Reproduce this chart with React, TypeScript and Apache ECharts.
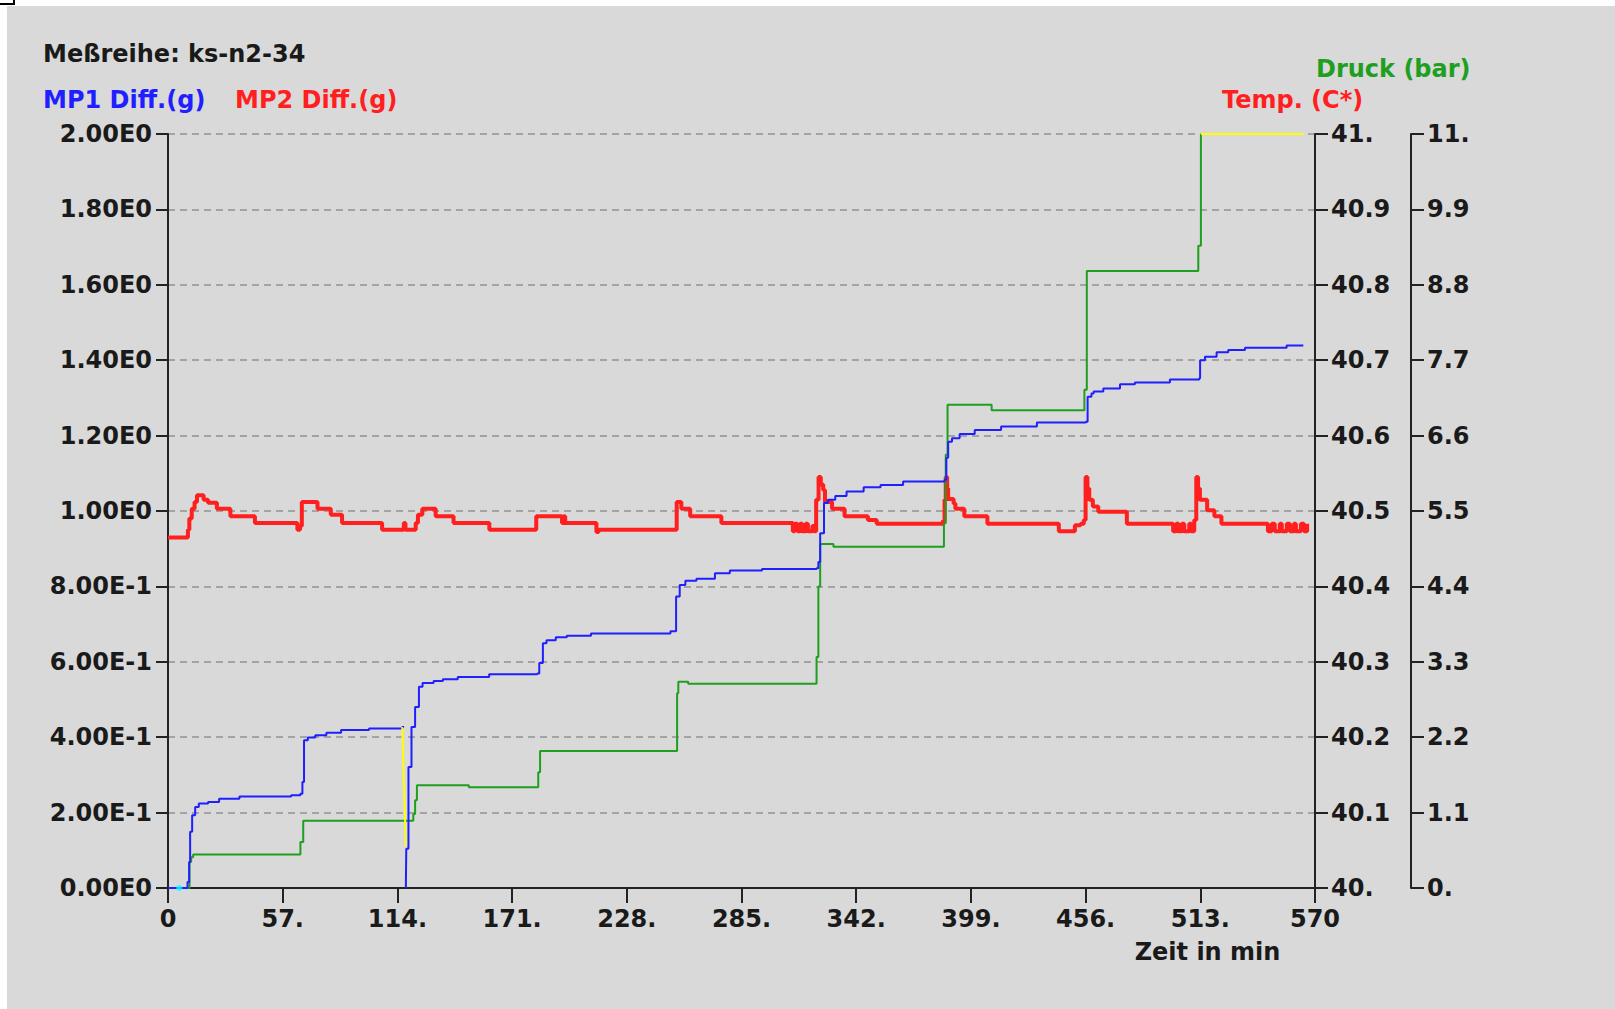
import React, { useEffect, useRef } from "react";
import * as echarts from "echarts";

// Tick labels as printed by the measuring software
const timeLabels = ["0", "57.", "114.", "171.", "228.", "285.", "342.", "399.", "456.", "513.", "570"];
const massLabels = ["0.00E0", "2.00E-1", "4.00E-1", "6.00E-1", "8.00E-1", "1.00E0", "1.20E0", "1.40E0", "1.60E0", "1.80E0", "2.00E0"];
const tempLabels = ["40.", "40.1", "40.2", "40.3", "40.4", "40.5", "40.6", "40.7", "40.8", "40.9", "41."];
const druckLabels = ["0.", "1.1", "2.2", "3.3", "4.4", "5.5", "6.6", "7.7", "8.8", "9.9", "11."];

// MP1 Diff. (g) — [time in min, grams]; each point starts a new level
const mp1Diff: [number, number | null][] = [
  [0, 0], [9.7, 0.016], [10.5, 0.069], [11.0, 0.149], [12.0, 0.193], [13.5, 0.215],
  [15.3, 0.224], [19.9, 0.228], [25.4, 0.237], [35.5, 0.243], [61.2, 0.246], [65.8, 0.25],
  [66.8, 0.281], [67.6, 0.392], [69.5, 0.399], [73.2, 0.405], [78.7, 0.412], [86.0, 0.419],
  [99.9, 0.423], [116.4, 0.427], [117.3, null],
  [118.2, 0], [118.4, 0.104], [119.5, 0.321], [121.0, 0.427], [122.8, 0.48], [124.7, 0.534],
  [126.5, 0.544], [132.0, 0.549], [136.6, 0.554], [144.0, 0.56], [159.6, 0.567], [183.5, 0.569],
  [184.5, 0.597], [186.3, 0.649], [188.1, 0.657], [192.7, 0.665], [198.2, 0.669], [210.2, 0.675],
  [249.7, 0.681], [252.5, 0.773], [254.3, 0.804], [257.1, 0.815], [262.6, 0.82], [271.8, 0.835],
  [279.2, 0.842], [295.2, 0.846], [322.3, 0.848], [323.2, 0.865], [324.1, 0.941], [326.0, 1.021],
  [327.9, 1.03], [331.6, 1.04], [337.2, 1.052], [345.7, 1.063], [354.1, 1.069], [365.3, 1.078],
  [385.9, 1.083], [386.8, 1.141], [387.7, 1.184], [389.6, 1.193], [393.4, 1.204], [400.9, 1.215],
  [414.0, 1.224], [431.8, 1.235], [456.1, 1.237], [457.0, 1.303], [458.9, 1.312], [460.0, 1.317],
  [464.8, 1.325], [473.1, 1.336], [480.5, 1.341], [497.9, 1.349], [512.5, 1.352], [512.9, 1.4],
  [515.3, 1.409], [521.1, 1.421], [526.9, 1.427], [535.2, 1.433], [555.9, 1.439], [564.2, 1.44],
];

// Druck (bar)
const druckBar: [number, number][] = [
  [0, 0], [10.7, 0.38], [11.5, 0.45], [12.5, 0.49], [65.8, 0.67], [67.2, 0.98],
  [121.9, 1.08], [122.8, 1.28], [123.7, 1.5], [149.5, 1.47], [184.0, 1.69], [184.9, 2.0],
  [253.0, 2.84], [253.6, 3.01], [258.5, 2.98], [322.3, 3.37], [323.2, 4.4], [324.1, 5.02],
  [330.7, 4.98], [385.6, 5.32], [386.5, 6.32], [387.4, 7.05], [409.3, 6.97], [455.4, 7.27],
  [456.6, 9.0], [512.0, 9.37], [513.3, 11],
];

// Temp. (°C)
const tempC: [number, number][] = [
  [0, 40.465], [9.9, 40.475], [10.6, 40.49], [11.8, 40.503], [13.2, 40.512], [14.4, 40.521],
  [17.7, 40.515], [19.9, 40.511], [24.3, 40.503], [31.0, 40.493], [43.2, 40.484], [64.3, 40.475],
  [65.6, 40.48], [66.5, 40.512], [74.3, 40.503], [80.9, 40.495], [86.5, 40.484], [106.4, 40.475],
  [117.2, 40.484], [118.0, 40.475], [123.1, 40.484], [124.2, 40.495], [126.4, 40.503], [133.0, 40.493],
  [141.9, 40.484], [159.7, 40.475], [183.0, 40.493], [195.8, 40.484], [196.6, 40.493], [197.4, 40.484],
  [212.9, 40.472], [214.0, 40.475], [252.8, 40.512], [255.1, 40.503], [259.5, 40.493], [275.0, 40.484],
  [310.5, 40.473], [311.5, 40.483], [312.8, 40.473], [314.0, 40.483], [315.2, 40.473], [316.8, 40.483],
  [318.0, 40.473], [320.2, 40.48], [321.2, 40.473], [322.1, 40.515], [323.3, 40.545], [324.4, 40.535],
  [325.6, 40.528], [326.5, 40.512], [330.0, 40.503], [336.2, 40.493], [347.8, 40.488], [352.2, 40.483],
  [385.1, 40.487], [385.9, 40.515], [386.5, 40.545], [387.2, 40.53], [387.7, 40.516], [390.4, 40.51],
  [391.3, 40.503], [395.7, 40.493], [407.2, 40.483], [442.7, 40.473], [450.7, 40.481], [453.5, 40.483],
  [455.1, 40.488], [456.0, 40.545], [456.9, 40.53], [457.8, 40.515], [459.6, 40.506], [462.3, 40.499],
  [476.5, 40.483], [499.5, 40.473], [501.0, 40.483], [502.2, 40.473], [503.8, 40.483], [505.0, 40.473],
  [507.5, 40.483], [508.5, 40.473], [510.0, 40.488], [511.0, 40.545], [511.9, 40.53], [512.8, 40.515],
  [516.4, 40.501], [520.0, 40.493], [523.5, 40.483], [546.6, 40.473], [548.5, 40.483], [550.0, 40.473],
  [552.5, 40.483], [553.5, 40.473], [556.0, 40.483], [557.5, 40.473], [559.5, 40.483], [560.5, 40.473],
  [563.0, 40.483], [564.5, 40.473], [566.1, 40.483],
];

// Out-of-range traces (yellow) and the start marker (cyan), in grams on the left scale
const overflowDrop: [number, number][] = [[116.4, 0.427], [118.2, 0.11]];
const overflowTop: [number, number][] = [[513.3, 2.0], [564.2, 2.0]];
const startMarker: [number, number][] = [[5.6, 0]];

const FONT = "DejaVu Sans";
const INK = "#1a1a1a";
const BLUE = "#1f1fff";
const RED = "#ff1f1f";
const GREEN = "#1f9f1f";

const labelStyle = { fontFamily: FONT, fontWeight: "bold" as const, fontSize: 24, color: INK };
const lineStyle = { color: "#222", width: 2 };

const pick = (labels: string[], min: number, step: number) => (v: number) =>
  labels[Math.round((v - min) / step)] ?? "";

function textEl(text: string, x: number, y: number, fill: string, align = "left") {
  return {
    type: "text",
    x,
    y,
    silent: true,
    style: {
      text,
      fill,
      font: `bold 24px "${FONT}"`,
      align,
      verticalAlign: "middle",
    },
  };
}

export default function App() {
  const ref = useRef<HTMLDivElement>(null);

  useEffect(() => {
    if (!ref.current) return;
    const chart = echarts.init(ref.current, null, { renderer: "svg" });
    chart.setOption({
      animation: false,
      backgroundColor: "#d9d9d9",
      grid: { left: 161, right: 300, top: 128, bottom: 121 },
      xAxis: {
        type: "value",
        min: 0,
        max: 570,
        interval: 57,
        axisLine: { show: true, onZero: false, lineStyle },
        axisTick: { show: true, length: 15, lineStyle },
        axisLabel: { ...labelStyle, margin: 19, formatter: pick(timeLabels, 0, 57) },
        splitLine: { show: false },
      },
      yAxis: [
        {
          type: "value",
          min: 0,
          max: 2,
          interval: 0.2,
          position: "left",
          axisLine: { show: true, onZero: false, lineStyle },
          axisTick: { show: true, length: 12, lineStyle },
          axisLabel: { ...labelStyle, margin: 16, formatter: pick(massLabels, 0, 0.2) },
          splitLine: { show: true, lineStyle: { color: "#a3a3a3", width: 2, type: [7, 5] } },
        },
        {
          type: "value",
          min: 40,
          max: 41,
          interval: 0.1,
          position: "right",
          axisLine: { show: true, onZero: false, lineStyle },
          axisTick: { show: true, length: 13, lineStyle },
          axisLabel: { ...labelStyle, margin: 16, formatter: pick(tempLabels, 40, 0.1) },
          splitLine: { show: false },
        },
        {
          type: "value",
          min: 0,
          max: 11,
          interval: 1.1,
          position: "right",
          offset: 96,
          axisLine: { show: true, onZero: false, lineStyle },
          axisTick: { show: true, length: 13, lineStyle },
          axisLabel: { ...labelStyle, margin: 16, formatter: pick(druckLabels, 0, 1.1) },
          splitLine: { show: false },
        },
      ],
      series: [
        {
          name: "Temp. (C*)",
          type: "line",
          yAxisIndex: 1,
          step: "end",
          showSymbol: false,
          clip: false,
          data: tempC,
          lineStyle: { color: RED, width: 4 },
          z: 2,
        },
        {
          name: "Druck (bar)",
          type: "line",
          yAxisIndex: 2,
          step: "end",
          showSymbol: false,
          clip: false,
          data: druckBar,
          lineStyle: { color: GREEN, width: 2 },
          z: 3,
        },
        {
          name: "MP1 Diff.(g)",
          type: "line",
          yAxisIndex: 0,
          step: "end",
          showSymbol: false,
          clip: false,
          connectNulls: false,
          data: mp1Diff,
          lineStyle: { color: BLUE, width: 2 },
          z: 4,
        },
        {
          type: "line",
          yAxisIndex: 0,
          showSymbol: false,
          clip: false,
          data: overflowDrop,
          lineStyle: { color: "#ffff00", width: 2 },
          z: 5,
        },
        {
          type: "line",
          yAxisIndex: 0,
          showSymbol: false,
          clip: false,
          data: overflowTop,
          lineStyle: { color: "#ffff00", width: 2 },
          z: 5,
        },
        {
          type: "scatter",
          yAxisIndex: 0,
          symbolSize: 6,
          clip: false,
          data: startMarker,
          itemStyle: { color: "#00ffff" },
          z: 6,
        },
      ],
      graphic: [
        textEl("Meßreihe: ks-n2-34", 36, 48, INK),
        textEl("MP1 Diff.(g)", 36, 93.5, BLUE),
        textEl("MP2 Diff.(g)", 228, 93.5, RED),
        textEl("Druck (bar)", 1309, 63, GREEN),
        textEl("Temp. (C*)", 1215, 94, RED),
        textEl("Zeit in min", 1200.5, 946, INK, "center"),
      ],
    });
    return () => chart.dispose();
  }, []);

  return (
    <div
      style={{
        position: "fixed",
        left: 0,
        top: 0,
        width: 1615,
        height: 1009,
        background: "#ffffff",
        overflow: "hidden",
      }}
    >
      <div
        style={{
          position: "absolute",
          left: 0,
          top: 0,
          width: 13,
          height: 3,
          borderRight: "2px solid #000",
          borderBottom: "2px solid #000",
        }}
      />
      <div ref={ref} style={{ position: "absolute", left: 7, top: 6, width: 1608, height: 1003 }} />
    </div>
  );
}
